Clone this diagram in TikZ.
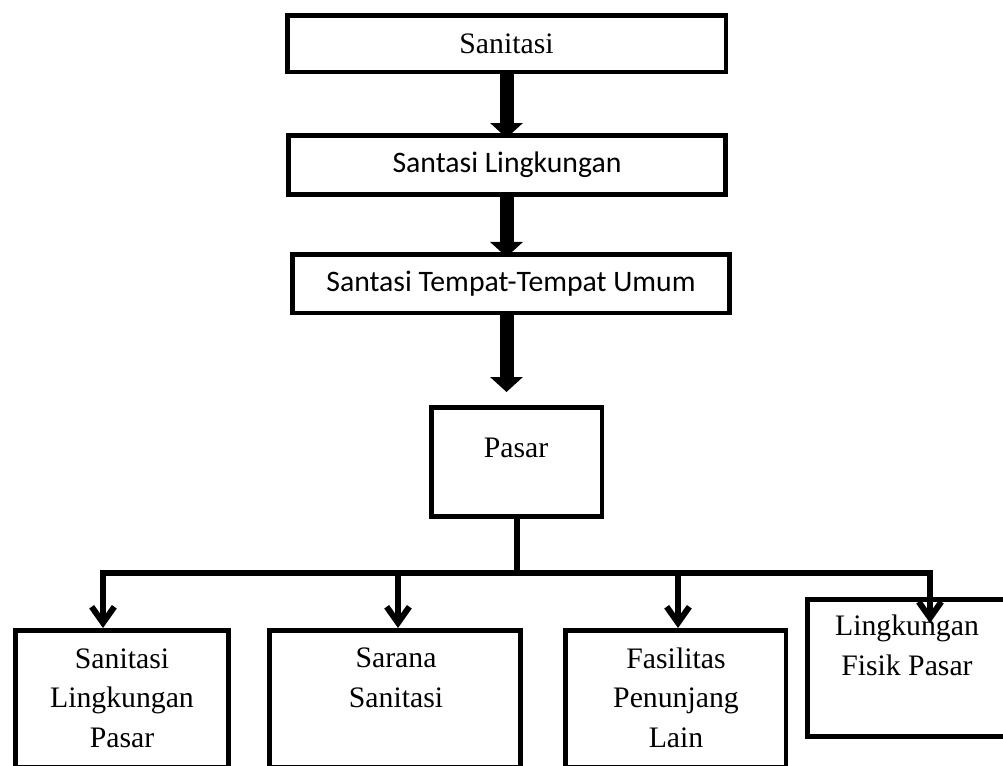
\documentclass[tikz,border=0pt]{standalone}
\usepackage{fontspec}
\setmainfont{Liberation Serif}
\newfontfamily\calibri{Carlito}
\usetikzlibrary{arrows.meta}
\begin{document}
\begin{tikzpicture}[x=0.75pt,y=-0.75pt,
  boxbase/.style={draw, line width=3.4pt, inner sep=0pt, font=\fontsize{22.3}{29.6}\selectfont},
  cal/.style={font=\fontsize{22.3}{29.6}\selectfont\calibri},
  lbl/.style={align=center, anchor=base, inner sep=0pt, font=\fontsize{22.3}{29.6}\selectfont},
  bigarrow/.style={line width=10.5pt, -{Triangle[length=11.25pt,width=24pt]}},
  bus/.style={line width=4.5pt, line cap=rect},
  branch/.style={line width=4.5pt, -{Straight Barb[length=12pt,width=17pt]}}
]
\useasboundingbox (0,0) rectangle (1003,765);
\clip (0,0) rectangle (1003,765);

% top chain
\node[boxbase, minimum width=328.9pt, minimum height=42.4pt] (san) at (506.5,43.5) {Sanitasi};
\node[boxbase, cal, minimum width=328.1pt, minimum height=44.6pt] (sl) at (507,165) {Santasi Lingkungan};
\node[boxbase, cal, minimum width=328.1pt, minimum height=43.9pt] (stu) at (511,283.5) {Santasi Tempat-Tempat Umum};
\node[boxbase, minimum width=127.9pt, minimum height=82.1pt] (pasar) at (516.5,462) {};
\node[lbl] (tpasar) at (516,457) {Pasar};

% bottom boxes
\node[boxbase, minimum width=160.1pt, minimum height=102.4pt] (b1) at (122,698.5) {};
\node[boxbase, minimum width=188.6pt, minimum height=102.4pt] (b2) at (395,698.5) {};
\node[boxbase, minimum width=165.4pt, minimum height=102.4pt] (b3) at (675.5,698.5) {};
\node[boxbase, minimum width=150.4pt, minimum height=103.1pt] (b4) at (907.5,668) {};
% anchor=base sits on the last line's baseline
\node[lbl] (t1) at (122,747) {Sanitasi\\Lingkungan\\Pasar};
\node[lbl] (t2) at (396,707) {Sarana\\Sanitasi};
\node[lbl] (t3) at (676,747) {Fasilitas\\Penunjang\\Lain};
\node[lbl] (t4) at (907,675) {Lingkungan\\Fisik Pasar};

% thick arrows
\draw[bigarrow, shorten >=-3.75pt] (san.south) -- (sl.north -| san.south);
\draw[bigarrow, shorten >=-3.75pt] (sl.south -| san.south) -- (stu.north -| san.south);
\draw[bigarrow, shorten >=9.75pt] (stu.south -| san.south) -- (pasar.north -| san.south);

% bus
\coordinate (j1) at (103,573);
\coordinate (j2) at (398,573);
\coordinate (j3) at (678,573);
\coordinate (j4) at (930,573);
\coordinate (e4) at (930,623);
\draw[bus] (pasar.south) -- (pasar.south |- j1);
\draw[bus] (j1) -- (j4);
\draw[branch] (j1) -- (j1 |- b1.north);
\draw[branch] (j2) -- (j2 |- b2.north);
\draw[branch] (j3) -- (j3 |- b3.north);
\draw[branch] (j4) -- (e4);
\end{tikzpicture}
\end{document}
